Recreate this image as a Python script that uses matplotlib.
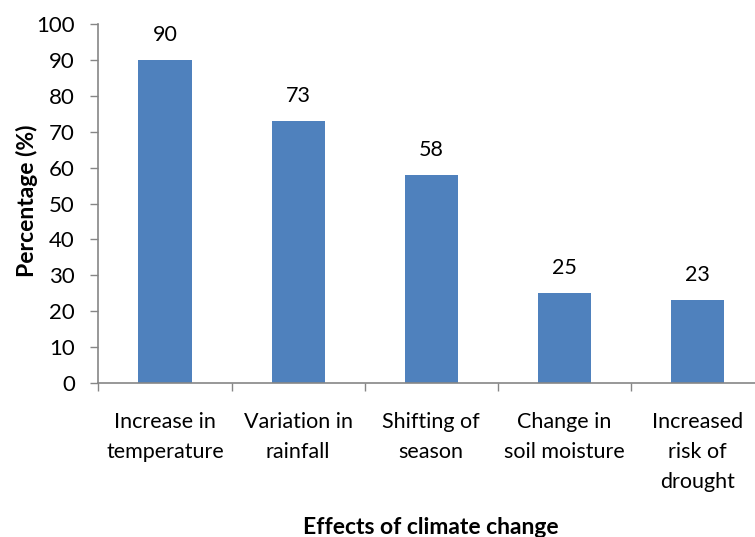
import matplotlib
matplotlib.use("Agg")
import matplotlib.pyplot as plt

categories = ["Increase in\ntemperature", "Variation in\nrainfall", "Shifting of\nseason",
              "Change in\nsoil moisture", "Increased\nrisk of\ndrought"]
values = [90, 73, 58, 25, 23]
yticks = list(range(0, 101, 10))

plt.rcParams['font.family'] = ['Lato', 'DejaVu Sans']

W, H = 755, 537
fig = plt.figure(figsize=(W / 100, H / 100), dpi=100)
left, right, top, bottom = 98.5, 764, 24, 383
ax = fig.add_axes([left / W, (H - bottom) / H, (right - left) / W, (bottom - top) / H])

x = list(range(len(categories)))
bars = ax.bar(x, values, width=0.4, color="#4F81BD", zorder=2)
for xi, v in zip(x, values):
    ax.annotate(str(v), (xi, v), xytext=(0, 18), textcoords="offset points",
                ha="center", va="center", fontsize=15.5)

ax.set_xlim(-0.5, len(categories) - 0.5)
ax.set_ylim(0, 100)
ax.set_yticks(yticks)
ax.set_yticklabels([str(t) for t in yticks], fontsize=16)

ax.set_xticks([i - 0.5 for i in range(len(categories) + 1)])
ax.set_xticklabels([])
ax.set_xticks(x, minor=True)
ax.set_xticklabels(categories, minor=True, fontsize=15.5, linespacing=1.62, va="top")
ax.tick_params(axis="x", which="minor", length=0, pad=21)
ax.tick_params(axis="x", which="major", length=6, width=1, color="#868686", direction="out")
ax.tick_params(axis="y", length=6, width=1, color="#868686", direction="out", pad=11)

for s in ["top", "right"]:
    ax.spines[s].set_visible(False)
for s in ["left", "bottom"]:
    ax.spines[s].set_color("#868686")
    ax.spines[s].set_linewidth(1.2)

fig.text(27 / W, 1 - 201 / H, "Percentage (%)", rotation=90, ha="center", va="center",
         fontsize=16.5, fontweight="bold")
fig.text(431 / W, 1 - 527 / H, "Effects of climate change", ha="center", va="center",
         fontsize=16.5, fontweight="bold")

fig.savefig("out.png", dpi=100)
